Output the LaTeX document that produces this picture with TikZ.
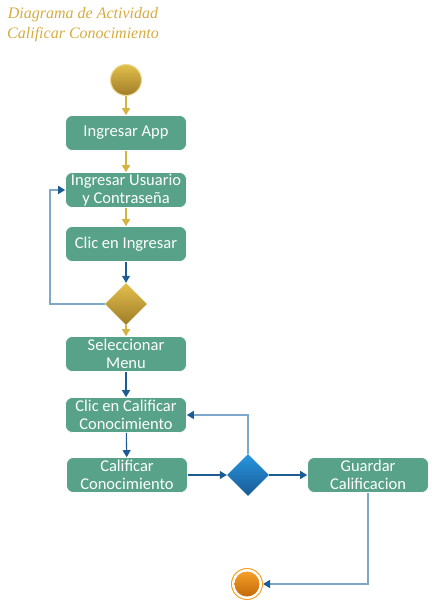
\documentclass[tikz,border=0pt]{standalone}
\usepackage{fontspec}
\setmainfont{Carlito}
\newfontfamily\titlefont{Liberation Serif}
\usetikzlibrary{arrows.meta,shapes.geometric,calc}
\definecolor{boxgreen}{RGB}{88,162,138}
\definecolor{goldline}{RGB}{214,178,64}
\definecolor{goldtop}{RGB}{226,192,76}
\definecolor{goldbot}{RGB}{160,124,40}
\definecolor{bluedark}{RGB}{28,92,146}
\definecolor{bluelight}{RGB}{126,168,202}
\definecolor{bluetop}{RGB}{40,150,222}
\definecolor{bluebot}{RGB}{24,90,150}
\definecolor{orangetop}{RGB}{246,160,40}
\definecolor{orangebot}{RGB}{196,104,10}
\definecolor{titlegold}{RGB}{214,172,64}
\tikzset{
  act/.style={rectangle, rounded corners=7pt, fill=boxgreen, draw=white, line width=0.6pt,
    minimum width=121pt, minimum height=35pt, text=white, align=center,
    font=\fontsize{16.5}{18.5}\selectfont, inner sep=0pt},
  golddiamond/.style={diamond, minimum width=42pt, minimum height=42pt, inner sep=0pt,
    top color=goldtop, bottom color=goldbot, draw=none},
  bluediamond/.style={diamond, minimum width=42pt, minimum height=42pt, inner sep=0pt,
    top color=bluetop, bottom color=bluebot, draw=none},
  goldarrow/.style={draw=goldline, line width=1.1pt, -{Triangle[length=7pt,width=8pt]}},
  bluearrow/.style={draw=bluedark, line width=1.1pt, -{Triangle[length=7pt,width=8pt]}},
  looparrow/.style={draw=bluelight, line width=1.3pt, -{Triangle[length=7pt,width=8pt,color=bluedark]}},
}
\begin{document}
\begin{tikzpicture}[x=1pt,y=-1pt]
\useasboundingbox (0,0) rectangle (431,601);
\node[font=\titlefont\itshape\fontsize{16}{19.5}\selectfont, text=titlegold, align=center, anchor=north]
  (title) at (83,4) {Diagrama de Actividad\\Calificar Conocimiento};

\node[circle, minimum size=31pt, inner sep=0pt, top color=goldtop, bottom color=goldbot,
  draw=goldtop!60!white, line width=1pt] (start) at (126,80) {};
\node[act] (b1) at (126,133) {Ingresar App};
\node[act] (b2) at (126,190) {Ingresar Usuario\\y Contraseña};
\node[act] (b3) at (126,244) {Clic en Ingresar};
\node[golddiamond] (d1) at (126,304) {};
\node[act] (b4) at (126,354) {Seleccionar\\Menu};
\node[act] (b5) at (126,415) {Clic en Calificar\\Conocimiento};
\node[act] (b6) at (127,475) {Calificar\\Conocimiento};
\node[bluediamond] (d2) at (248,475) {};
\node[act] (b7) at (368,475) {Guardar\\Calificacion};
\node[circle, minimum size=31pt, inner sep=0pt, draw=orangetop, line width=1pt] (end) at (247,584) {};
\node[circle, minimum size=25pt, inner sep=0pt, top color=orangetop, bottom color=orangebot] at (end) {};

\draw[goldarrow] (start) -- (b1);
\draw[goldarrow] (b1) -- (b2);
\draw[goldarrow] (b2) -- (b3);
\draw[bluearrow] (b3) -- (d1);
\draw[goldarrow] (d1) -- (b4);
\draw[looparrow] (d1.west) -- (50,304) |- (b2.west);
\draw[bluearrow] (b4) -- (b5);
\draw[bluearrow] (b5) -- (b6);
\draw[bluearrow] (b6) -- (d2);
\draw[bluearrow] (d2) -- (b7);
\draw[looparrow] (d2.north) |- (b5.east);
\draw[looparrow] (b7.south) |- (end.east);
\end{tikzpicture}
\end{document}
